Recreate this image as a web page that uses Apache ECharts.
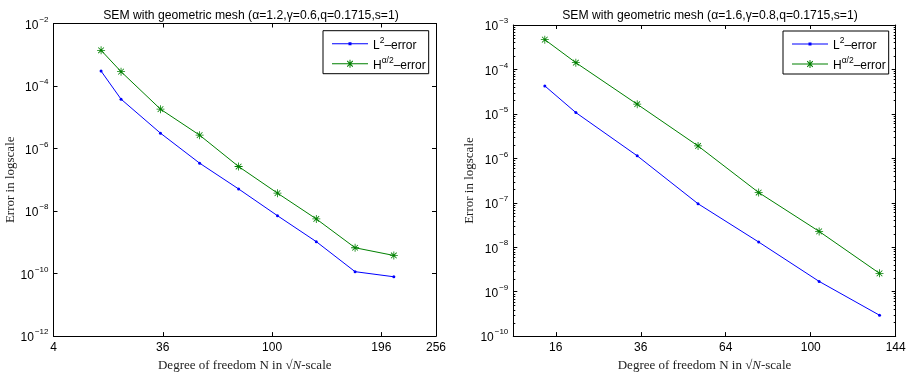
<!DOCTYPE html>
<html>
<head>
<meta charset="utf-8">
<script src="https://cdn.jsdelivr.net/npm/echarts@6/dist/echarts.min.js"></script>
<style>html,body{margin:0;padding:0;background:#fff}#c{width:912px;height:377px}</style>
</head>
<body>
<div id="c"></div>
<script>
// ---- data ----
var leftN = [14, 20, 35, 54, 77, 104, 135, 170, 209];
var leftL2 = [3.0e-4, 3.8e-5, 3.1e-6, 3.4e-7, 5.1e-8, 7.1e-9, 1.05e-9, 1.15e-10, 7.9e-11];
var leftH = [1.39e-3, 2.88e-4, 1.82e-5, 2.68e-6, 2.66e-7, 3.74e-8, 5.6e-9, 6.7e-10, 3.8e-10];
var rightN = [14, 20, 35, 54, 77, 104, 135];
var rightL2 = [4.26e-5, 1.07e-5, 1.14e-6, 9.5e-8, 1.31e-8, 1.7e-9, 2.95e-10];
var rightH = [4.68e-4, 1.42e-4, 1.65e-5, 1.9e-6, 1.7e-7, 2.27e-8, 2.58e-9];
var leftXTicks = [4, 36, 100, 196, 256];
var rightXTicks = [16, 36, 64, 100, 144];
var leftTitle = 'SEM with geometric mesh (\u03b1=1.2,\u03b3=0.6,q=0.1715,s=1)';
var rightTitle = 'SEM with geometric mesh (\u03b1=1.6,\u03b3=0.8,q=0.1715,s=1)';
var yName = 'Error in logscale';
var L2name = 'L2', Hname = 'H';

var sans = 'Liberation Sans, Arial, sans-serif';
var serif = 'Liberation Serif, Times New Roman, serif';

var star = 'path://M-10,-1L10,-1L10,1L-10,1ZM-1,-10L1,-10L1,10L-1,10ZM-6.36,-7.78L7.78,6.36L6.36,7.78L-7.78,-6.36ZM-7.78,6.36L6.36,-7.78L7.78,-6.36L-6.36,7.78Z';
var iconL2 = 'path://M0,1L36,1L36,2L0,2ZM16.5,0L19.5,0L19.5,3L16.5,3Z';
var iconH = 'path://M0,3.5L36,3.5L36,4.5L0,4.5ZM17.5,0L18.5,0L18.5,8L17.5,8Z' +
  'M15.53,0.82L21.18,6.47L20.47,7.18L14.82,1.53Z' +
  'M14.82,6.47L20.47,0.82L21.18,1.53L15.53,7.18Z';

function pairs(ns, vs) { return ns.map(function (n, i) { return [Math.sqrt(n), vs[i]]; }); }
function expLabel(v) {
  var e = Math.round(Math.log10(v));
  return '{b|10}{e|' + (e < 0 ? '\u2212' + (-e) : e) + '}';
}
var expRich = {
  b: { fontFamily: sans, fontSize: 12, color: '#000', lineHeight: 16, verticalAlign: 'bottom' },
  e: { fontFamily: sans, fontSize: 8, color: '#000', lineHeight: 16, verticalAlign: 'top', padding: [0, 0, 0, 1] }
};
// minor tick positions (log10 of m*10^k)
function minorVals(lo, hi) {
  var out = [];
  for (var k = lo; k < hi; k++) for (var m = 2; m <= 9; m++) out.push(k + Math.log10(m));
  return out;
}

var xNameRich = {
  a: { fontFamily: serif, fontSize: 13, color: '#222' },
  i: { fontFamily: serif, fontSize: 13, fontStyle: 'italic', color: '#222' }
};
var xNameText = '{a|Degree of freedom N in \u221a}{i|N}{a|-scale}';

function xAxes(gi, min, max, ticks) {
  var cv = ticks.map(Math.sqrt);
  var base = {
    gridIndex: gi, type: 'value', min: min, max: max, splitLine: { show: false },
    axisLine: { show: true, onZero: false, lineStyle: { color: '#000', width: 1 } }
  };
  return [
    Object.assign({}, base, {
      position: 'bottom',
      axisTick: { show: true, inside: true, length: 4, customValues: cv, lineStyle: { color: '#000' } },
      axisLabel: { show: true, customValues: cv, margin: 6, color: '#000', fontFamily: sans, fontSize: 12,
        formatter: function (v) { return String(Math.round(v * v)); } },
      name: xNameText, nameLocation: 'middle', nameGap: 20,
      nameTextStyle: { rich: xNameRich }
    }),
    Object.assign({}, base, {
      position: 'top',
      axisTick: { show: true, inside: true, length: 4, customValues: cv, lineStyle: { color: '#000' } },
      axisLabel: { show: true, customValues: cv, formatter: function () { return ''; } }
    })
  ];
}
function yAxes(gi, min, max, interval) {
  var base = {
    gridIndex: gi, type: 'log', logBase: 10, min: min, max: max, interval: interval,
    splitLine: { show: false },
    axisLine: { show: true, onZero: false, lineStyle: { color: '#000', width: 1 } },
    axisTick: { show: true, inside: true, length: 4, lineStyle: { color: '#000' } }
  };
  return [
    Object.assign({}, base, {
      position: 'left',
      axisLabel: { show: true, margin: 5, formatter: expLabel, rich: expRich },
      name: yName, nameLocation: 'middle', nameGap: 31,
      nameTextStyle: { fontFamily: serif, fontSize: 13, color: '#222' }
    }),
    Object.assign({}, base, { position: 'right', axisLabel: { show: false } })
  ];
}
function minorAxis(gi, min, max, pos, vals) {
  return {
    gridIndex: gi, type: 'value', min: Math.log10(min), max: Math.log10(max), position: pos,
    splitLine: { show: false },
    axisLine: { show: false, onZero: false },
    axisLabel: { show: true, customValues: vals, formatter: function () { return ''; } },
    axisTick: { show: true, inside: true, length: 2, customValues: vals, lineStyle: { color: '#000', width: 1 } }
  };
}

var rMinor = minorVals(-10, -3);
var lx = xAxes(0, 2, 16, leftXTicks);
var rx = xAxes(1, 3, 12, rightXTicks);
var ly = yAxes(0, 1e-12, 1e-2, 2);
var ry = yAxes(1, 1e-10, 1e-3, 1);
// overlay grid (index 2) carrying only the left-side minor ticks of the right panel
var ovX = { gridIndex: 2, type: 'value', min: 0, max: 1, show: false };

var legendRich = {
  a: { fontFamily: sans, fontSize: 12, color: '#000', lineHeight: 16, verticalAlign: 'bottom' },
  s: { fontFamily: sans, fontSize: 8.5, color: '#000', lineHeight: 16, verticalAlign: 'top' }
};
function legendFmt(n) {
  return n === L2name ? '{a|L}{s|2}{a|\u2013error}' : '{a|H}{s|\u03b1/2}{a|\u2013error}';
}
function legend(left, top) {
  return {
    left: left, top: top, orient: 'vertical',
    data: [{ name: L2name, icon: iconL2 }, { name: Hname, icon: iconH }],
    borderColor: '#000', borderWidth: 1, backgroundColor: '#fff',
    padding: [5, 3, 2, 9], itemWidth: 36, itemHeight: 8, itemGap: 4,
    symbolKeepAspect: true,
    selectedMode: false, formatter: legendFmt,
    textStyle: { rich: legendRich }
  };
}

function mk(name, xi, yi, data, color, sym, size) {
  return {
    name: name, type: 'line', xAxisIndex: xi, yAxisIndex: yi, data: data,
    symbol: sym, symbolSize: size, showSymbol: true, silent: true, animation: false,
    lineStyle: { color: color, width: 1 }, itemStyle: { color: color, borderWidth: 0 }
  };
}

var chart = echarts.init(document.getElementById('c'));
chart.setOption({
  animation: false,
  backgroundColor: '#fff',
  title: [
    { text: leftTitle, left: 246, top: 5, textAlign: 'center',
      textStyle: { fontFamily: sans, fontSize: 12.2, fontWeight: 'normal', color: '#000' } },
    { text: rightTitle, left: 705, top: 5, textAlign: 'center',
      textStyle: { fontFamily: sans, fontSize: 12.2, fontWeight: 'normal', color: '#000' } }
  ],
  grid: [
    { left: 53.5, right: 476, top: 23.5, bottom: 40.3, containLabel: false },
    { left: 513.3, right: 16.3, top: 25, bottom: 40.3, containLabel: false },
    { left: 513.3, right: 16.3, top: 25, bottom: 40.3, containLabel: false }
  ],
  legend: [legend(323, 30.7), legend(783, 31)],
  xAxis: lx.concat(rx).concat([ovX]),
  yAxis: ly.concat(ry).concat([
    minorAxis(1, 1e-10, 1e-3, 'right', rMinor),
    minorAxis(2, 1e-10, 1e-3, 'left', rMinor)
  ]),
  series: [
    mk(L2name, 0, 0, pairs(leftN, leftL2), '#0000ff', 'circle', 3),
    mk(Hname, 0, 0, pairs(leftN, leftH), '#008000', star, 8),
    mk(L2name, 2, 2, pairs(rightN, rightL2), '#0000ff', 'circle', 3),
    mk(Hname, 2, 2, pairs(rightN, rightH), '#008000', star, 8)
  ]
});
</script>
</body>
</html>
